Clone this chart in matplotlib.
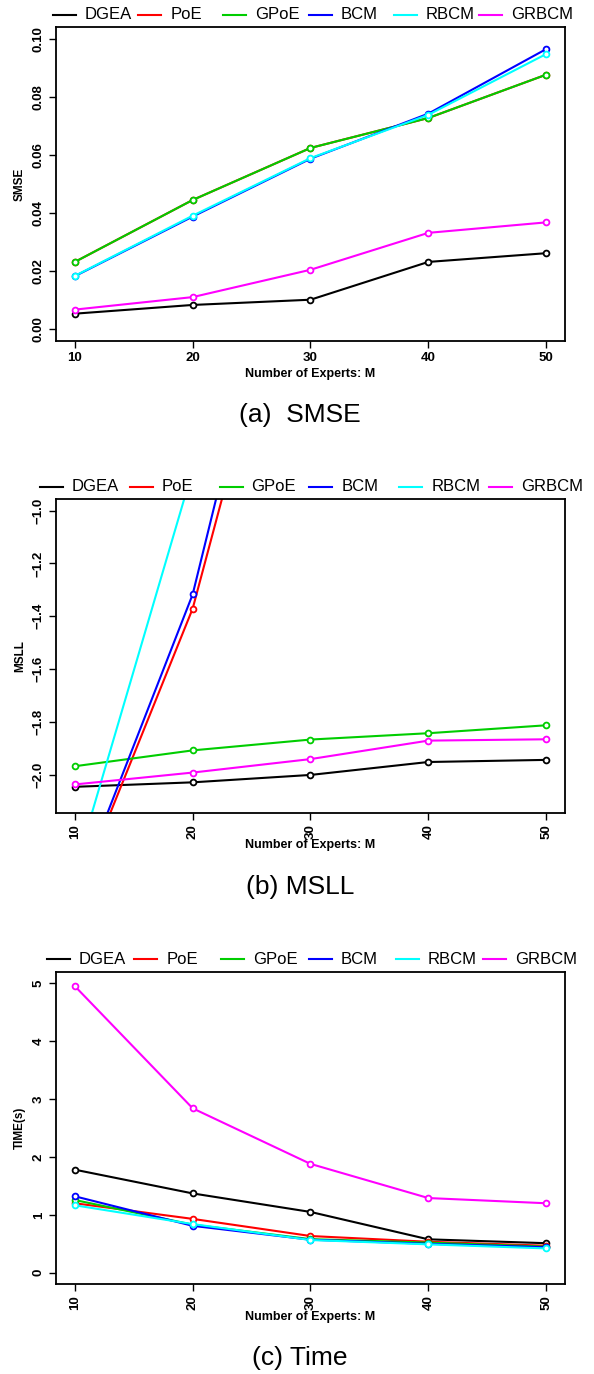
import matplotlib
matplotlib.use("Agg")
import matplotlib.pyplot as plt
from matplotlib.lines import Line2D

plt.rcParams['font.family'] = ['Liberation Sans', 'DejaVu Sans']

# ---- data ----
M = [10, 20, 30, 40, 50]
METHODS = ["DGEA", "PoE", "GPoE", "BCM", "RBCM", "GRBCM"]
COLORS = ["#000000", "#FF0000", "#00CD00", "#0000FF", "#00FFFF", "#FF00FF"]

smse_dgea = [0.0054, 0.0084, 0.0102, 0.0232, 0.0262]
smse_poe = [0.0232, 0.0445, 0.0624, 0.0727, 0.0876]
smse_gpoe = [0.0232, 0.0445, 0.0624, 0.0727, 0.0876]
smse_bcm = [0.0183, 0.0388, 0.0587, 0.0742, 0.0964]
smse_rbcm = [0.0184, 0.0391, 0.0589, 0.0738, 0.0947]
smse_grbcm = [0.0068, 0.0111, 0.0205, 0.0332, 0.0368]

msll_dgea = [-2.046, -2.029, -2.001, -1.952, -1.944]
msll_poe = [-2.478, -1.371, 0.30, 1.5, 2.8]
msll_gpoe = [-1.968, -1.908, -1.867, -1.843, -1.813]
msll_bcm = [-2.462, -1.317, 0.50, 1.9, 3.2]
msll_rbcm = [-2.365, -0.847, 0.2, 1.0, 1.8]
msll_grbcm = [-2.037, -1.992, -1.941, -1.871, -1.866]

time_dgea = [1.78, 1.37, 1.05, 0.577, 0.51]
time_poe = [1.20, 0.93, 0.634, 0.535, 0.466]
time_gpoe = [1.256, 0.83, 0.58, 0.52, 0.45]
time_bcm = [1.32, 0.81, 0.57, 0.50, 0.44]
time_rbcm = [1.165, 0.84, 0.565, 0.49, 0.42]
time_grbcm = [4.95, 2.84, 1.88, 1.29, 1.20]

SMSE = [smse_dgea, smse_poe, smse_gpoe, smse_bcm, smse_rbcm, smse_grbcm]
MSLL = [msll_dgea, msll_poe, msll_gpoe, msll_bcm, msll_rbcm, msll_grbcm]
TIME = [time_dgea, time_poe, time_gpoe, time_bcm, time_rbcm, time_grbcm]

W, H = 594, 1374
fig = plt.figure(figsize=(W / 100, H / 100), dpi=100)

# (series, box top px, box bottom px, ylim, yticks, ylabel fmt, ylabel, caption, legend x0, step, rot)
PANELS = [
    (SMSE, 27, 341, (-0.004, 0.104), [0, 0.02, 0.04, 0.06, 0.08, 0.10], "{:.2f}",
     "SMSE", "(a)  SMSE", 53, 85.2, 0),
    (MSLL, 499, 812.7, (-2.144, -0.956), [-2.0, -1.8, -1.6, -1.4, -1.2, -1.0], "{:.1f}",
     "MSLL", "(b) MSLL", 40, 89.8, 90),
    (TIME, 971.7, 1284.3, (-0.2, 5.2), [0, 1, 2, 3, 4, 5], "{:.0f}",
     "TIME(s)", "(c) Time", 47, 87.2, 90),
]

L, R = 56, 565
for series, top, bot, ylim, yt, yfmt, ylab, cap, lx0, lstep, rot in PANELS:
    ax = fig.add_axes([L / W, 1 - bot / H, (R - L) / W, (bot - top) / H])
    for vals, col in zip(series, COLORS):
        ax.plot(M, vals, color=col, lw=1.5, marker="o", ms=4.2, mfc="white",
                mec=col, mew=1.3)
    ax.set_xlim(8.4, 51.6)
    ax.set_ylim(*ylim)
    ax.set_xticks(M)
    ax.set_xticklabels([str(m) for m in M], rotation=rot)
    ax.set_yticks(yt)
    ax.set_yticklabels([yfmt.format(v).replace("-", "\u2212") for v in yt],
                       rotation=90, va="center")
    for lbl in ax.get_xticklabels() + ax.get_yticklabels():
        lbl.set_fontweight("bold")
        lbl.set_fontsize(9.5)
    ax.tick_params(direction="out", length=5, width=1, pad=3)
    for s in ax.spines.values():
        s.set_linewidth(1.3)
    ax.set_xlabel("Number of Experts: M", fontsize=9, fontweight="bold")
    ax.xaxis.set_label_coords(0.5, -0.104)
    ax.xaxis.label.set_va("center")
    ax.set_ylabel(ylab, fontsize=8.5, fontweight="bold")
    ax.yaxis.set_label_coords((20 - L) / (R - L), 0.5)
    ax.yaxis.label.set_va("center")

    # horizontal legend above the box
    ly = 1 - (top - 12.5) / H
    for i, (name, col) in enumerate(zip(METHODS, COLORS)):
        x0 = lx0 + i * lstep
        fig.add_artist(Line2D([x0 / W, (x0 + 23) / W], [ly, ly], color=col, lw=1.5,
                              transform=fig.transFigure))
        fig.text((x0 + 32) / W, ly, name, fontsize=12, ha="left", va="center")

    fig.text(300 / W, 1 - (bot + 74) / H, cap, fontsize=19, ha="center", va="center")

fig.savefig("out.png", dpi=100)
